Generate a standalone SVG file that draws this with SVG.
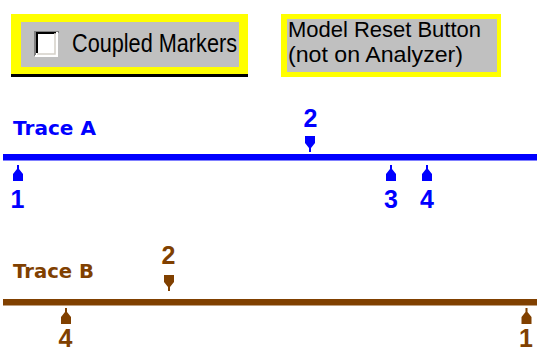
<svg xmlns="http://www.w3.org/2000/svg" width="537" height="352" viewBox="0 0 537 352">
<style>
.btn{font-family:"Liberation Sans",Arial,sans-serif;fill:#000}
.title{font-family:"DejaVu Sans","Liberation Sans",sans-serif;font-weight:bold;font-size:20px}
.num{font-family:"Liberation Sans",Arial,sans-serif;font-weight:bold;font-size:25px;text-anchor:middle}
.blue{fill:#0000FF}
.brown{fill:#804000}
</style>
<defs>
<path id="mk" d="M-1,0 H1 V4 L5,9 V16 H-5 V9 L-1,4 Z"/>
</defs>
<rect width="537" height="352" fill="#fff"/>
<g id="coupled-markers">
<rect x="11" y="74" width="237" height="3" fill="#000"/>
<rect x="11" y="14" width="237" height="60" fill="#FFFF00"/>
<rect x="21" y="22" width="218" height="45" fill="#C0C0C0"/>
<rect x="34" y="31" width="24" height="24" fill="#fff"/>
<path d="M34,55 V31 H58" fill="none" stroke="#808080" stroke-width="2" transform="translate(1,1)"/>
<path d="M37,53 V33 H56" fill="none" stroke="#000" stroke-width="2"/>
<path d="M35,56 H57 V32" fill="none" stroke="#fff" stroke-width="2"/>
<path d="M37,54 H55 V33" fill="none" stroke="#D4D0C8" stroke-width="1.5"/>
<text class="btn" x="72" y="52" font-size="25" textLength="165" lengthAdjust="spacingAndGlyphs">Coupled Markers</text>
</g>
<g id="model-reset">
<rect x="281" y="14" width="220" height="63" fill="#FFFF00"/>
<rect x="287" y="19" width="210" height="53" fill="#C0C0C0"/>
<text class="btn" x="288" y="37" font-size="21.5" textLength="193" lengthAdjust="spacingAndGlyphs">Model Reset Button</text>
<text class="btn" x="288" y="62" font-size="21.5" textLength="175" lengthAdjust="spacingAndGlyphs">(not on Analyzer)</text>
</g>
<g id="trace-a">
<text class="title blue" x="13" y="135" textLength="83" lengthAdjust="spacingAndGlyphs">Trace A</text>
<rect x="3" y="154" width="534" height="6.5" class="blue"/>
</g>
<g id="trace-a-markers" class="blue">
<g id="a1"><use href="#mk" x="18" y="165"/><text class="num" x="17.5" y="208">1</text></g>
<g id="a2"><use href="#mk" transform="translate(310,152) scale(1,-1)"/><text class="num" x="310.5" y="127">2</text></g>
<g id="a3"><use href="#mk" x="391" y="165"/><text class="num" x="391" y="208">3</text></g>
<g id="a4"><use href="#mk" x="427" y="165"/><text class="num" x="427" y="208">4</text></g>
</g>
<g id="trace-b">
<text class="title brown" x="13" y="278" textLength="81" lengthAdjust="spacingAndGlyphs">Trace B</text>
<rect x="3" y="299" width="534" height="6.5" class="brown"/>
</g>
<g id="trace-b-markers" class="brown">
<g id="b2"><use href="#mk" transform="translate(169,291) scale(1,-1)"/><text class="num" x="168.5" y="264">2</text></g>
<g id="b4"><use href="#mk" x="66" y="308"/><text class="num" x="65.5" y="347">4</text></g>
<g id="b1"><use href="#mk" x="526.5" y="308"/><text class="num" x="526" y="347">1</text></g>
</g>
</svg>
